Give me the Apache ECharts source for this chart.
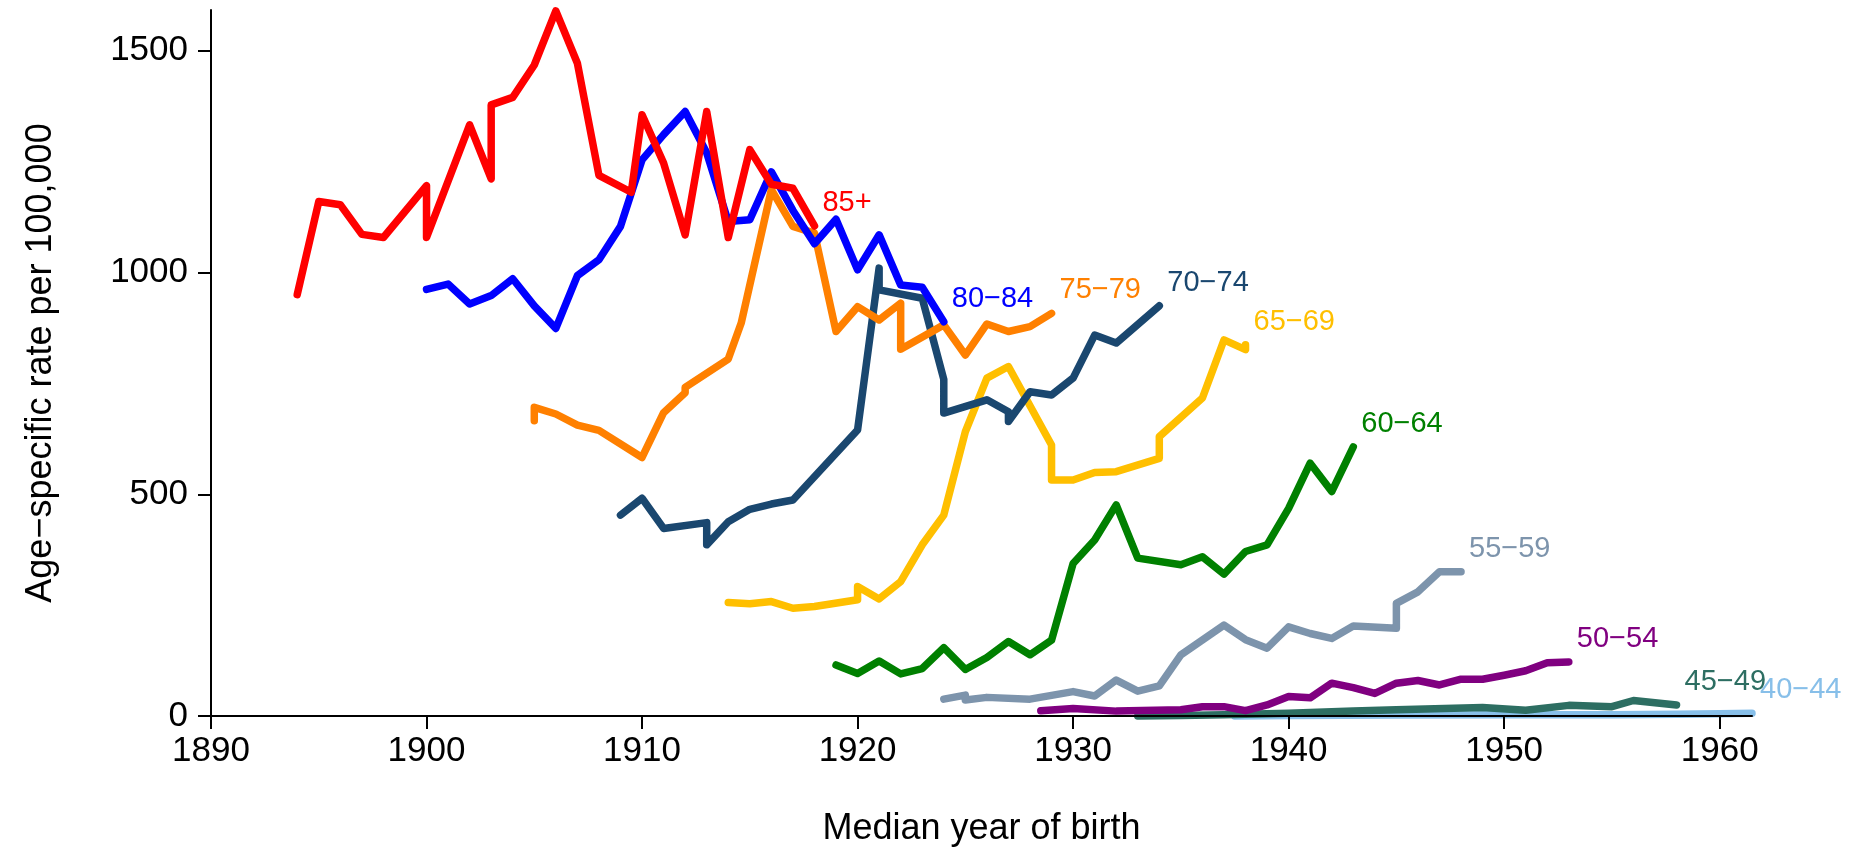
<!DOCTYPE html>
<html>
<head>
<meta charset="utf-8">
<script src="https://cdn.jsdelivr.net/npm/echarts@6/dist/echarts.min.js"></script>
<style>
  html, body { margin: 0; padding: 0; background: #fff; }
  #chart { width: 1856px; height: 850px; }
</style>
</head>
<body>
<div id="chart"></div>
<script>
// tick labels
const xTicks = [1890, 1900, 1910, 1920, 1930, 1940, 1950, 1960]
const yTicks = [0, 500, 1000, 1500]

// age groups, youngest first (older groups drawn on top)
const ageGroups = ['40−44', '45−49', '50−54', '55−59', '60−64', '65−69', '70−74', '75−79', '80−84', '85+']
const groupColors = ['#87bfe9', '#2d6e62', '#800080', '#7d94ac', '#008000', '#ffbf00', '#1a476f', '#ff8000', '#0000ff', '#ff0000']

// [median year of birth, rate per 100,000]
const age40 = [[1937.5, 0], [1940, 1], [1945, 2], [1950, 3], [1955, 3], [1958, 4], [1960, 5], [1961.5, 6]]
const age45 = [[1933, 0], [1935, 1], [1937, 3], [1940, 6], [1943, 11], [1945, 14], [1949, 19], [1951, 13],
  [1953, 24], [1955, 21], [1956, 35], [1958, 25]]
const age50 = [[1928.5, 12], [1930, 17], [1932, 11], [1935, 14], [1936, 21], [1937, 21], [1938, 12], [1939, 25],
  [1940, 44], [1941, 41], [1942, 74], [1943, 64], [1944, 51], [1945, 74], [1946, 80], [1947, 70],
  [1948, 83], [1949, 83], [1950, 92], [1951, 102], [1952, 120], [1953, 122]]
const age55 = [[1924, 38], [1925, 47], [1925, 36], [1926, 42], [1928, 38], [1930, 55], [1931, 45], [1932, 81],
  [1933, 56], [1934, 68], [1935, 138], [1937, 205], [1938, 172], [1939, 153], [1940, 201], [1941, 186],
  [1942, 175], [1943, 203], [1945, 198], [1945, 254], [1946, 280], [1947, 325], [1948, 325]]
const age60 = [[1919, 115], [1920, 96], [1921, 124], [1922, 95], [1923, 107], [1924, 154], [1925, 105],
  [1926, 132], [1927, 168], [1928, 138], [1929, 171], [1930, 344], [1931, 397], [1932, 476], [1933, 356],
  [1935, 341], [1936, 359], [1937, 320], [1938, 371], [1939, 386], [1940, 468], [1941, 570], [1942, 506],
  [1943, 607]]
const age65 = [[1914, 256], [1915, 253], [1916, 258], [1917, 243], [1918, 247], [1920, 262], [1920, 292],
  [1921, 264], [1922, 303], [1923, 386], [1924, 453], [1925, 641], [1926, 762], [1927, 788], [1929, 611],
  [1929, 532], [1930, 532], [1931, 549], [1932, 551], [1934, 581], [1934, 630], [1936, 717], [1937, 848],
  [1938, 826], [1938, 837]]
const age70 = [[1909, 453], [1910, 491], [1911, 423], [1913, 436], [1913, 386], [1914, 438], [1915, 466],
  [1916, 478], [1917, 487], [1920, 645], [1921, 1010], [1921, 961], [1923, 942], [1924, 759], [1924, 683],
  [1926, 713], [1927, 686], [1927, 664], [1928, 731], [1929, 724], [1930, 762], [1931, 859], [1932, 841],
  [1934, 925]]
const age75 = [[1905, 666], [1905, 696], [1906, 681], [1907, 656], [1908, 644], [1910, 583], [1911, 684],
  [1912, 729], [1912, 741], [1914, 805], [1914.6, 886], [1916, 1187], [1917, 1104], [1918, 1089],
  [1919, 867], [1920, 923], [1921, 893], [1922, 931], [1922, 827], [1924, 882], [1925, 814], [1926, 884],
  [1927, 867], [1928, 878], [1929, 908]]
const age80 = [[1900, 962], [1901, 974], [1902, 929], [1903, 948], [1904, 986], [1905, 925], [1906, 874],
  [1907, 993], [1908, 1029], [1909, 1104], [1910, 1254], [1911, 1311], [1912, 1363], [1913, 1270],
  [1914, 1115], [1915, 1119], [1916, 1227], [1917, 1140], [1918, 1065], [1919, 1120], [1920, 1006],
  [1921, 1085], [1922, 972], [1923, 967], [1924, 889]]
const age85 = [[1894, 950], [1895, 1160], [1896, 1153], [1897, 1086], [1898, 1079], [1900, 1196], [1900, 1079],
  [1902, 1333], [1903, 1211], [1903, 1378], [1904, 1395], [1905, 1468], [1906, 1590], [1907, 1472],
  [1908, 1219], [1909.5, 1181], [1910, 1356], [1911, 1247], [1912, 1085], [1913, 1363], [1914, 1079],
  [1915, 1277], [1916, 1199], [1917, 1190], [1918, 1105]]

const groupData = [age40, age45, age50, age55, age60, age65, age70, age75, age80, age85]

const font = '"Liberation Sans", Arial, sans-serif'
const axisColor = '#000'

const chart = echarts.init(document.getElementById('chart'))

const series = ageGroups.map((name, i) => ({
  name,
  type: 'line',
  data: groupData[i],
  symbol: 'none',
  clip: false,
  lineStyle: { color: groupColors[i], width: 7.5, cap: 'round', join: 'round' },
  itemStyle: { color: groupColors[i] },
  endLabel: {
    show: true,
    formatter: '{a}',
    color: groupColors[i],
    fontSize: 29,
    fontFamily: font,
    distance: 8,
    offset: [0, -23],
  },
  z: 2 + i,
}))

chart.setOption({
  animation: false,
  backgroundColor: '#fff',
  grid: {
    left: 211,
    right: 104,
    top: 10,
    bottom: 134,
    outerBoundsMode: 'none',
  },
  xAxis: {
    type: 'value',
    min: 1890,
    max: 1961.5,
    z: 20,
    axisLine: { show: true, onZero: true, lineStyle: { color: axisColor, width: 2 } },
    axisTick: { show: true, length: 13, customValues: xTicks, lineStyle: { color: axisColor, width: 2 } },
    axisLabel: {
      customValues: xTicks,
      formatter: (val) => String(val),
      color: axisColor,
      fontSize: 35,
      fontFamily: font,
      margin: 18,
    },
    splitLine: { show: false },
    name: 'Median year of birth',
    nameLocation: 'middle',
    nameGap: 95,
    nameTextStyle: { color: axisColor, fontSize: 36, fontFamily: font },
  },
  yAxis: {
    type: 'value',
    min: 0,
    max: 1592,
    z: 20,
    axisLine: { show: true, lineStyle: { color: axisColor, width: 2 } },
    axisTick: { show: true, length: 13, customValues: yTicks, lineStyle: { color: axisColor, width: 2 } },
    axisLabel: {
      customValues: yTicks,
      formatter: (val) => String(val),
      color: axisColor,
      fontSize: 35,
      fontFamily: font,
      margin: 23,
    },
    splitLine: { show: false },
    name: 'Age−specific rate per 100,000',
    nameLocation: 'middle',
    nameGap: 152,
    nameTextStyle: { color: axisColor, fontSize: 36, fontFamily: font },
  },
  series,
})
</script>
</body>
</html>
